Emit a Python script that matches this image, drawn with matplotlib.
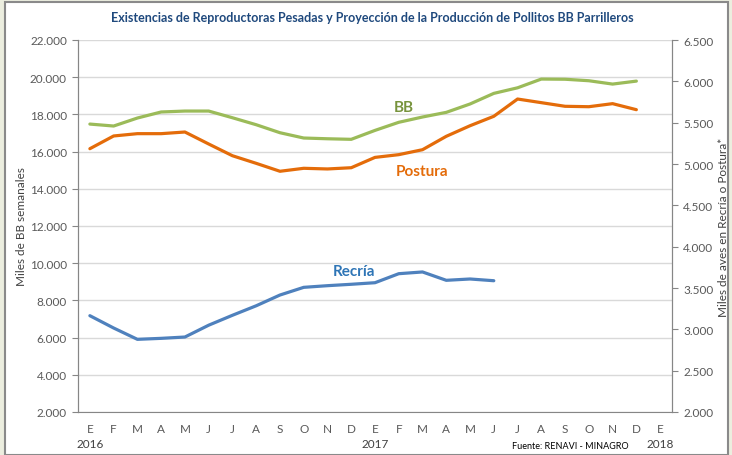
import matplotlib
matplotlib.use("Agg")
import matplotlib.pyplot as plt
from matplotlib.patches import Rectangle
from matplotlib.ticker import FuncFormatter, MultipleLocator

plt.rcParams['font.family'] = ['Lato', 'DejaVu Sans']

# meses Ene 2016 .. Ene 2018
meses = ['E', 'F', 'M', 'A', 'M', 'J', 'J', 'A', 'S', 'O', 'N', 'D',
         'E', 'F', 'M', 'A', 'M', 'J', 'J', 'A', 'S', 'O', 'N', 'D', 'E']
anios = {0: '2016', 12: '2017', 24: '2018'}

# Pollitos BB (eje izquierdo, miles semanales)
bb = [17480, 17375, 17805, 18130, 18180, 18180, 17820, 17445, 17015, 16730, 16690, 16660,
      17140, 17575, 17860, 18110, 18560, 19130, 19430, 19900, 19890, 19810, 19630, 19790]

# Postura (eje derecho, miles de aves)
postura = [5185, 5339, 5367, 5367, 5387, 5242, 5100, 5008, 4912, 4948, 4940, 4955,
           5080, 5113, 5173, 5335, 5463, 5577, 5786, 5742, 5698, 5693, 5730, 5657]

# Recria (eje derecho), solo hasta junio 2017
recria = [3165, 3016, 2879, 2891, 2907, 3050, 3170, 3285, 3415, 3508, 3528, 3545,
          3564, 3673, 3694, 3593, 3609, 3588]

W, H = 732, 456
fig = plt.figure(figsize=(W / 100, H / 100), dpi=100)
fig.patch.set_facecolor('#ECEEDF')
fig.patches.append(Rectangle((5 / W, 0), 723 / W, 1 - 3 / H, transform=fig.transFigure,
                             facecolor='white', edgecolor='#8A8A8A', lw=1.5, zorder=-1))

ax = fig.add_axes([78 / W, 1 - 413 / H, (672 - 78) / W, (413 - 41) / H])
ax.set_facecolor('none')
ax2 = ax.twinx()

fmt = FuncFormatter(lambda v, p: f'{v:,.0f}'.replace(',', '.'))
gris = '#595959'

ax.plot(range(len(bb)), bb, color='#9BBB59', lw=2.3, solid_capstyle='round')
ax2.plot(range(len(postura)), postura, color='#E46C0A', lw=2.3, solid_capstyle='round')
ax2.plot(range(len(recria)), recria, color='#4F81BD', lw=2.3, solid_capstyle='round')

ax.set_xlim(-0.5, 24.5)
ax.set_ylim(2000, 22000)
ax2.set_ylim(2000, 6500)
ax.yaxis.set_major_locator(MultipleLocator(2000))
ax2.yaxis.set_major_locator(MultipleLocator(500))
ax.yaxis.set_major_formatter(fmt)
ax2.yaxis.set_major_formatter(fmt)
ax.grid(axis='y', color='#D9D9D9', lw=1)
ax.set_axisbelow(True)

ax.set_xticks(range(len(meses)))
ax.set_xticklabels(meses)
ax.tick_params(axis='x', length=0, pad=8, labelsize=8.5, labelcolor=gris)
ax.tick_params(axis='y', length=4, color='#868686', labelsize=8.5, labelcolor=gris, pad=4)
ax2.tick_params(axis='y', length=4, color='#868686', labelsize=8.5, labelcolor=gris, pad=4)

for a in (ax, ax2):
    a.spines['top'].set_visible(False)
    for s in ('left', 'right', 'bottom'):
        a.spines[s].set_color('#868686')
ax2.spines['bottom'].set_visible(False)

for i, y in anios.items():
    ax.text(i, -0.07, y, transform=ax.get_xaxis_transform(), ha='center', va='top',
            fontsize=8.5, color='#404040')

ax.set_ylabel('Miles de BB semanales', fontsize=8.5, color='#404040', labelpad=2)
ax2.set_ylabel('Miles de aves en Recría o Postura*', fontsize=8.5, color='#404040', labelpad=3)

ax.text(13.2, 18400, 'BB', color='#77933C', fontsize=11, fontweight='bold', ha='center', va='center')
ax2.text(14.0, 4910, 'Postura', color='#E46C0A', fontsize=11, fontweight='bold', ha='center', va='center')
ax2.text(11.1, 3710, 'Recría', color='#2E75B6', fontsize=11, fontweight='bold', ha='center', va='center')

fig.text(372 / W, 1 - 18 / H,
         'Existencias de Reproductoras Pesadas y Proyección de la Producción de Pollitos BB Parrilleros',
         ha='center', va='center', fontsize=9, fontweight='bold', color='#1F497D')
fig.text(570 / W, 1 - 447 / H, 'Fuente: RENAVI - MINAGRO', ha='center', va='center',
         fontsize=6.5, color='black')

fig.savefig('out.png', dpi=100, facecolor=fig.get_facecolor())
